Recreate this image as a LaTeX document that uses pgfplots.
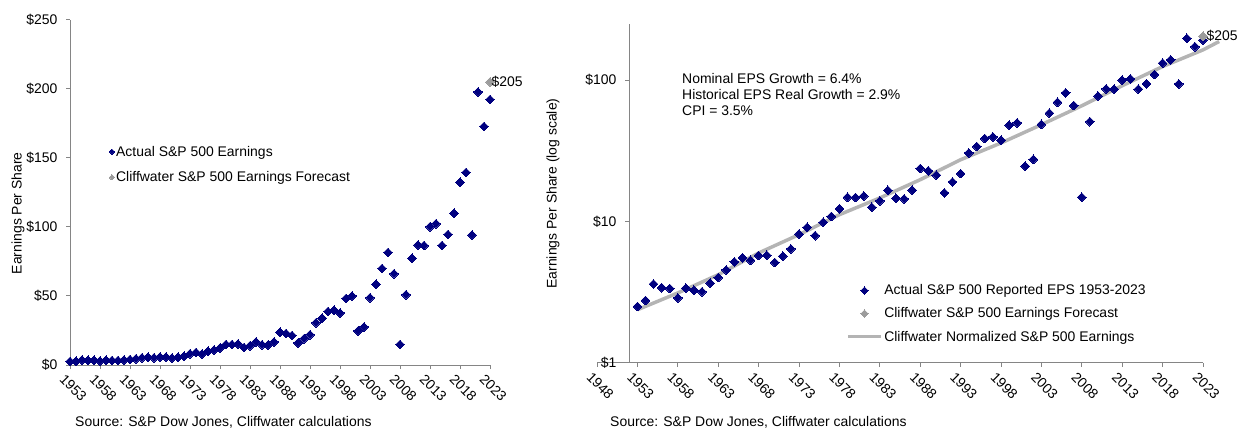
\documentclass[border=0pt]{standalone}
\usepackage{fontspec}
\setmainfont{Liberation Sans}
\usepackage{pgfplots}
\usepackage{pgfplotstable}
\pgfplotsset{compat=1.18}

\definecolor{epsblue}{HTML}{000080}
\definecolor{fcgray}{HTML}{9C9C9C}
\definecolor{linegray}{HTML}{B4B4B4}
\definecolor{axgray}{HTML}{858585}

% reported S&P 500 EPS
\pgfplotstableread{
year eps
1953 2.51
1954 2.77
1955 3.62
1956 3.41
1957 3.37
1958 2.89
1959 3.39
1960 3.27
1961 3.19
1962 3.67
1963 4.02
1964 4.55
1965 5.19
1966 5.55
1967 5.33
1968 5.76
1969 5.78
1970 5.13
1971 5.70
1972 6.42
1973 8.16
1974 9.11
1975 7.96
1976 9.91
1977 10.89
1978 12.33
1979 14.86
1980 14.82
1981 15.18
1982 12.64
1983 14.03
1984 16.64
1985 14.61
1986 14.48
1987 16.70
1988 23.75
1989 22.87
1990 21.34
1991 15.97
1992 19.09
1993 21.89
1994 30.60
1995 33.96
1996 38.73
1997 39.72
1998 37.71
1999 48.17
2000 50.00
2001 24.69
2002 27.59
2003 48.74
2004 58.55
2005 69.93
2006 81.51
2007 66.18
2008 14.88
2009 50.97
2010 77.35
2011 86.95
2012 86.51
2013 100.20
2014 102.31
2015 86.53
2016 94.55
2017 109.88
2018 132.39
2019 139.47
2020 94.13
2021 197.87
2022 172.75
2023 192.43
}\epsdata

% normalized earnings line
\pgfplotstableread{
year eps
1953 2.38
1958 3.13
1963 4.21
1968 6.0
1973 8.09
1978 11.2
1983 14.7
1988 19.8
1993 27.4
1998 36.0
2003 48.5
2008 66
2013 91.5
2018 125
2023 164
2025 188
}\normdata

\pgfplotsset{
  cwbase/.style={
    scale only axis, anchor=south west, clip=false,
    axis x line*=bottom, axis y line*=left,
    axis line style={axgray, line width=1bp, -},
    major tick style={axgray, line width=1bp},
    minor tick style={draw=none},
    tick align=outside, major tick length=4bp,
    font=\fontsize{14}{16}\selectfont,
    /pgf/number format/assume math mode=true,
    /pgf/number format/set thousands separator={},
    xticklabel style={rotate=-45, anchor=north west, inner sep=2bp, xshift=-2bp, yshift=-4bp},
    yticklabel style={xshift=-5bp},
    legend cell align=left,
  },
  dots/.style={only marks, color=#1, mark=square*, mark size=3.1bp,
    mark options={rotate=45, draw=#1, fill=#1, line width=0pt}},
}

\begin{document}
\begin{tikzpicture}
\path[use as bounding box] (0,0) rectangle (1242bp,429bp);

% ---- linear panel
\begin{axis}[cwbase,
  at={(70bp,64bp)}, width=420bp, height=345bp,
  xmin=1953, xmax=2023, ymin=0, ymax=250,
  xtick={1953,1958,...,2023},
  ytick={0,50,...,250},
  yticklabels={\$0,\$50,\$100,\$150,\$200,\$250},
  ylabel={Earnings Per Share},
  ylabel style={at={(axis description cs:-0.124,0.44)}, anchor=center, font=\fontsize{14}{16}\selectfont},
  legend style={draw=none, fill=none, at={(axis description cs:0.093,0.640)},
    anchor=north west, row sep=11bp, inner sep=0pt,
    font=\fontsize{14}{16}\selectfont, nodes={inner sep=1.5bp}},
  legend image code/.code={\draw[#1, mark size=1.9bp] plot coordinates {(0bp,0bp)};},
]
\addplot[dots=epsblue] table[x=year, y=eps] {\epsdata};
\addlegendentry{Actual S\&P 500 Earnings}
\addplot[dots=fcgray, nodes near coords={\$205}, nodes near coords style={anchor=west, text=black, font=\fontsize{14}{16}\selectfont, inner sep=1.5bp}]
  coordinates {(2023,205)};
\addlegendentry{Cliffwater S\&P 500 Earnings Forecast}
\end{axis}

% ---- log panel
\begin{axis}[cwbase,
  at={(597bp,66bp)}, width=606bp, height=339bp,
  axis y line shift=-32bp,
  ymode=log,
  xmin=1948, xmax=2023, ymin=1, ymax=250,
  xtick={1948,1953,...,2023},
  ytick={1,10,100},
  yticklabels={\$1,\$10,\$100},
  ylabel={Earnings Per Share (log scale)},
  ylabel style={at={(axis description cs:-0.0726,0.5)}, anchor=center, font=\fontsize{14}{16}\selectfont},
  legend style={draw=none, fill=none, at={(axis description cs:0.411,0.236)},
    anchor=north west, row sep=8.5bp, inner sep=0pt,
    font=\fontsize{14}{16}\selectfont, nodes={inner sep=1.5bp}},
  legend image code/.code={\path[draw=none] (0bp,0bp) -- (33bp,0bp);
    \draw[#1, mark size=2.6bp] plot coordinates {(16.5bp,0bp)};},
]
\addplot[linegray, line width=3.5bp, forget plot] table[x=year, y=eps] {\normdata};
\addplot[dots=epsblue] table[x=year, y=eps] {\epsdata};
\addlegendentry{Actual S\&P 500 Reported EPS 1953-2023}
\addplot[dots=fcgray, nodes near coords={\$205}, nodes near coords style={anchor=west, text=black, font=\fontsize{14}{16}\selectfont, inner sep=3.5bp}]
  coordinates {(2023,205)};
\addlegendentry{Cliffwater S\&P 500 Earnings Forecast}
\addlegendimage{legend image code/.code={\draw[linegray, line width=3.5bp] (0bp,0bp) -- (33bp,0bp);}}
\addlegendentry{Cliffwater Normalized S\&P 500 Earnings}
\end{axis}

\begin{scope}[every node/.style={anchor=base west, inner sep=0pt, font=\fontsize{14}{16}\selectfont}]
\node at (682bp,345.5bp) {Nominal EPS Growth = 6.4\%};
\node at (682bp,329.5bp) {Historical EPS Real Growth = 2.9\%};
\node at (682bp,313.5bp) {CPI = 3.5\%};
\node at (75bp,3bp) {Source: S\&P Dow Jones, Cliffwater calculations};
\node at (610bp,3bp) {Source: S\&P Dow Jones, Cliffwater calculations};
\end{scope}
\end{tikzpicture}
\end{document}
